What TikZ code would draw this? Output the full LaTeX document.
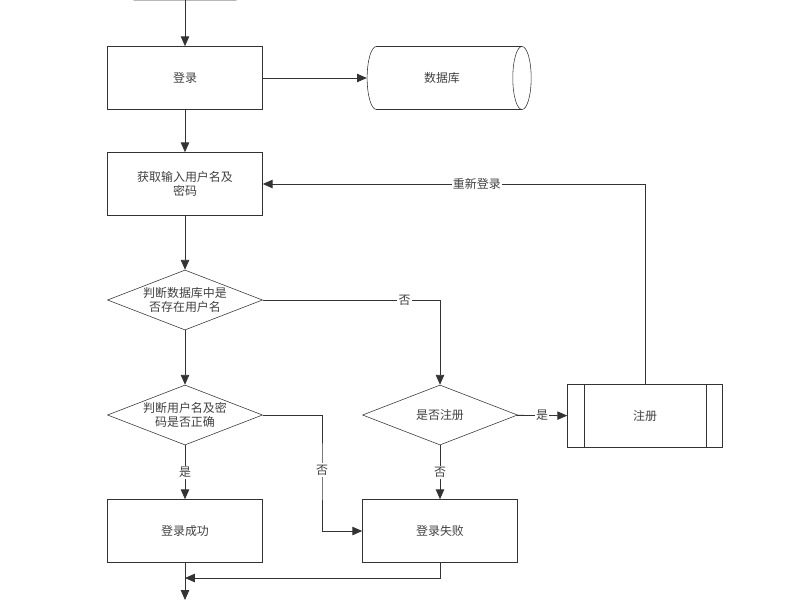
\documentclass[tikz,border=0pt]{standalone}
\usepackage{fontspec}
\newfontfamily\cjk{Noto Sans CJK SC}
\usetikzlibrary{shapes.geometric, arrows.meta, positioning}

\begin{document}
\begin{tikzpicture}[
    x=0.025cm, y=-0.025cm,
    font=\cjk\fontsize{8.5}{10.5}\selectfont,
    every node/.style={text=black!75},
    process/.style={rectangle, draw=black!80, minimum width=3.875cm, minimum height=1.575cm, align=center},
    decision/.style={diamond, draw=black!80, minimum width=3.875cm, minimum height=1.5cm, aspect=2.6, inner sep=0pt, align=center},
    database/.style={cylinder, draw=black!80, minimum width=1.575cm, minimum height=4.1cm, aspect=0.9, shape border rotate=0},
    predef/.style={rectangle, draw=black!80, minimum width=3.875cm, minimum height=1.575cm},
    line/.style={draw=black!80, line width=0.6pt},
    arrow/.style={line, -{Triangle[length=7pt, width=6pt]}},
    tag/.style={fill=white, inner sep=1pt}
]
\useasboundingbox (0,0) rectangle (800,600);

% Start (cut off at the top)
\node[rectangle, rounded corners=8pt, draw=black!80, minimum width=3.1cm, minimum height=1cm] (start) at (185,-20) {};

% Main column
\node[process] (login) at (185,78) {登录};
\node[database] (db) at (442,78) {数据库};
\node[process] (input) at (185,184) {获取输入用户名及\\密码};
\node[decision] (exist) at (185,300) {判断数据库中是\\否存在用户名};
\node[decision] (check) at (185,415) {判断用户名及密\\码是否正确};
\node[process] (ok) at (185,531) {登录成功};

% Right side
\node[decision] (reg) at (440,415) {是否注册};
\node[process] (fail) at (440,531) {登录失败};
\node[predef] (signup) at (645,416) {注册};
\draw[line] ([xshift=12]signup.north west) -- ([xshift=12]signup.south west);
\draw[line] ([xshift=-12]signup.north east) -- ([xshift=-12]signup.south east);

% Coordinates
\coordinate (end) at (185,600);
\coordinate (join) at (185,578);

% Connections
\draw[arrow] (start) -- (login);
\draw[arrow] (login) -- (db);
\draw[arrow] (login) -- (input);
\draw[arrow] (input) -- (exist);
\draw[arrow] (exist) -- (check);
\draw[arrow] (check) -- node[tag] {是} (ok);
\draw[arrow] (exist) -| node[tag, pos=0.4] {否} (reg);
\draw[arrow] (reg) -- node[tag] {是} (signup);
\draw[arrow] (reg) -- node[tag] {否} (fail);
\draw[arrow] (signup) |- node[tag, pos=0.72] {重新登录} (input);
\draw[arrow] (check.east) -| (322,470) node[tag] {否} |- (fail.west);
\draw[arrow] (ok) -- (end);
\draw[arrow] (fail.south) |- (join);

\end{tikzpicture}
\end{document}
